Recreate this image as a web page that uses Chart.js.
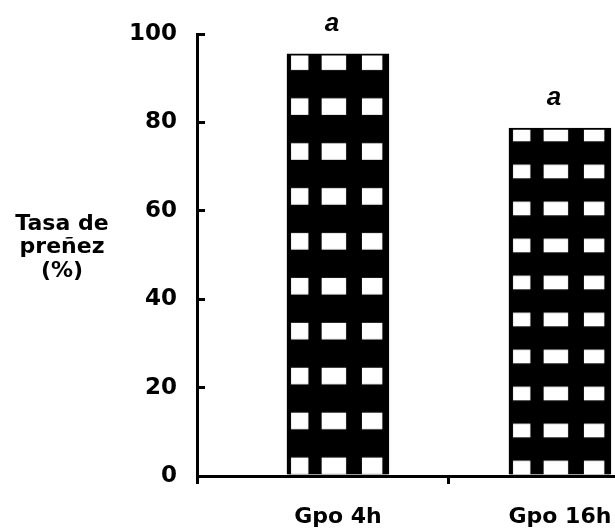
<!DOCTYPE html>
<html lang="es">
<head>
<meta charset="utf-8">
<title>Tasa de preñez</title>
<script src="https://cdn.jsdelivr.net/npm/chart.js@4.4.1/dist/chart.umd.min.js"></script>
<style>
  html, body { margin: 0; padding: 0; background: #fff; }
  #grafico { display: block; }
</style>
</head>
<body>
<canvas id="grafico" width="615" height="531"></canvas>
<script>
// --- Datos ---
const grupos = ['Gpo 4h', 'Gpo 16h'];
const posiciones = [1, 2];          // lugar de cada grupo en el eje x
const tasaPrenez = [95.5, 78.7];     // %
const letras = ['a', 'a'];
const ticksY = [0, 20, 40, 60, 80, 100];
const tituloY = ['Tasa de', 'preñez', '(%)'];

// --- Estilo ---
const ANCHO_BARRA = 102;
const FILAS = 9.4;                   // filas de cuadros por barra (la trama se estira con la barra)
const columnas = [[0.04, 0.21], [0.34, 0.58], [0.735, 0.935]];

// Trama de la barra: cuadros blancos sobre negro
function tramaBarra(chart, i) {
    const sx = chart.scales.x, sy = chart.scales.y;
    if (!sx || !sy) return '#000';
    const izq = sx.getPixelForValue(posiciones[i]) - ANCHO_BARRA / 2;
    const arriba = sy.getPixelForValue(tasaPrenez[i]);
    const alto = sy.getPixelForValue(0) - arriba;
    if (!isFinite(izq) || !isFinite(alto) || alto <= 0) return '#000';
    const c = document.createElement('canvas');
    c.width = ANCHO_BARRA;
    c.height = Math.ceil(alto) + 2;
    const g = c.getContext('2d');
    g.fillStyle = '#000';
    g.fillRect(0, 0, c.width, c.height);
    g.fillStyle = '#fff';
    const paso = alto / FILAS;
    for (let k = 0; k < 10; k++) {
        const y0 = k * paso - 0.5;
        columnas.forEach(([a, b]) => g.fillRect(a * ANCHO_BARRA, y0, (b - a) * ANCHO_BARRA, paso * 0.37));
    }
    const p = chart.ctx.createPattern(c, 'no-repeat');
    p.setTransform(new DOMMatrix().translate(izq, arriba));
    return p;
}

// Letras sobre las barras y título del eje y (horizontal)
const textos = {
    id: 'textos',
    afterDraw(chart) {
        const ctx = chart.ctx;
        const meta = chart.getDatasetMeta(0);
        ctx.save();
        ctx.fillStyle = '#000';
        ctx.textAlign = 'center';
        ctx.textBaseline = 'alphabetic';
        ctx.font = 'italic bold 26px "Liberation Sans"';
        meta.data.forEach((barra, i) => ctx.fillText(letras[i], barra.x - 6, barra.y - 23));
        ctx.font = 'bold 22px "DejaVu Sans"';
        ctx.textBaseline = 'middle';
        tituloY.forEach((linea, i) => ctx.fillText(linea, 62, 224 + i * 23.5));
        ctx.restore();
    }
};

new Chart(document.getElementById('grafico'), {
    type: 'bar',
    data: {
        datasets: [{
            data: posiciones.map((p, i) => ({ x: p, y: tasaPrenez[i] })),
            backgroundColor: (c) => c.type === 'data' ? tramaBarra(c.chart, c.dataIndex) : '#000',
            borderColor: '#000',
            borderWidth: 2,
            borderSkipped: 'bottom',
            barThickness: ANCHO_BARRA
        }]
    },
    options: {
        responsive: false,
        animation: false,
        layout: { padding: { top: 34, right: 0, bottom: 0, left: 0 } },
        plugins: { legend: { display: false }, tooltip: { enabled: false } },
        scales: {
            x: {
                type: 'linear',
                offset: false,
                min: 0.365,
                max: 2.248,
                z: 1,
                afterBuildTicks: (s) => { s.ticks = [s.min, 1, 1.5, 2].map(v => ({ value: v })); },
                afterFit: (s) => {
                    s.height = 55;
                    s.paddingLeft = 0;
                    s.paddingRight = 0;
                },
                ticks: {
                    autoSkip: false,
                    maxRotation: 0,
                    padding: 20,
                    color: '#000',
                    font: { family: 'DejaVu Sans', size: 22, weight: 'bold' },
                    callback: (v) => {
                        const i = posiciones.indexOf(v);
                        return i >= 0 ? grupos[i] : '';
                    }
                },
                grid: {
                    offset: false,
                    drawOnChartArea: false,
                    tickLength: 8,
                    lineWidth: 3,
                    color: (c) => c.tick && posiciones.includes(c.tick.value) ? 'rgba(0,0,0,0)' : '#000',
                    tickColor: (c) => c.tick && posiciones.includes(c.tick.value) ? 'rgba(0,0,0,0)' : '#000'
                },
                border: { color: '#000', width: 3 }
            },
            y: {
                min: 0,
                max: 100,
                afterBuildTicks: (s) => { s.ticks = ticksY.map(v => ({ value: v })); },
                afterFit: (s) => {
                    s.width = 197;
                    s.paddingTop = 0;
                    s.paddingBottom = 0;
                },
                ticks: {
                    padding: 28,
                    color: '#000',
                    font: { family: 'DejaVu Sans', size: 23, weight: 'bold' }
                },
                grid: { drawOnChartArea: false, tickLength: -8, lineWidth: 3, color: '#000' },
                border: { color: '#000', width: 3 }
            }
        }
    },
    plugins: [textos]
});
</script>
</body>
</html>
